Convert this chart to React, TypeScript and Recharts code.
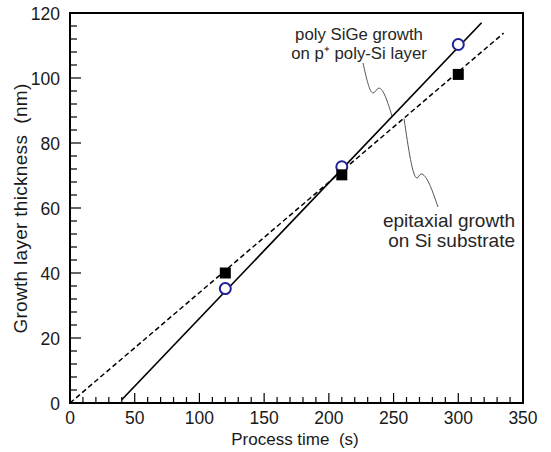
import React from "react";
import {
  ComposedChart,
  XAxis,
  YAxis,
  Line,
  Scatter,
  ReferenceArea,
  Customized,
} from "recharts";

// ---- data ----
const polySiGePoints = [
  { x: 120, y: 35.2 },
  { x: 210, y: 72.7 },
  { x: 300, y: 110.3 },
];
const epiPoints = [
  { x: 120, y: 40.0 },
  { x: 210, y: 70.2 },
  { x: 300, y: 101.1 },
];
const polySiGeFit = [
  { x: 40, y: 1 },
  { x: 318, y: 117 },
];
const epiFit = [
  { x: 0, y: 0 },
  { x: 335, y: 113.8 },
];
const leader1 = [
  { x: 226.4, y: 104.6 },
  { x: 234.1, y: 95.4 },
  { x: 238.7, y: 96.9 },
  { x: 248.8, y: 88.3 },
];
const leader2 = [
  { x: 258.1, y: 87.5 },
  { x: 268.1, y: 69.2 },
  { x: 271.2, y: 70.5 },
  { x: 284.3, y: 60.3 },
];
const xTicks = [
  0, 10, 20, 30, 40, 50, 60, 70, 80, 90, 100, 110, 120, 130, 140, 150, 160,
  170, 180, 190, 200, 210, 220, 230, 240, 250, 260, 270, 280, 290, 300, 310,
  320, 330, 340, 350,
];
const yTicks = [
  0, 4, 8, 12, 16, 20, 24, 28, 32, 36, 40, 44, 48, 52, 56, 60, 64, 68, 72, 76,
  80, 84, 88, 92, 96, 100, 104, 108, 112, 116, 120,
];
const xTitle = "Process time  (s)";
const yTitle = "Growth layer thickness  (nm)";
const polyLabel = ["poly SiGe growth", "on p\u207A poly-Si layer"];
const epiLabel = ["epitaxial growth", "on Si substrate"];

const FONT = "'Liberation Sans', Arial, sans-serif";
const TEXT = "#1a1a1a";

const XTick = (props: any) => {
  const { x, y, payload } = props;
  const v = payload.value;
  const major = v % 50 === 0;
  return (
    <g>
      <line x1={x} y1={y} x2={x} y2={y - (major ? 10 : 6)} stroke="#000" strokeWidth={1.2} />
      {major && (
        <text x={x} y={y + 15} dy="0.35em" textAnchor="middle" fontSize={17.5} fontFamily={FONT} fill={TEXT}>
          {v}
        </text>
      )}
    </g>
  );
};

const YTick = (props: any) => {
  const { x, y, payload } = props;
  const v = payload.value;
  const major = v % 20 === 0;
  return (
    <g>
      <line x1={x} y1={y} x2={x + (major ? 11 : 7)} y2={y} stroke="#000" strokeWidth={1.2} />
      {major && (
        <text x={x - 10} y={y} dy="0.38em" textAnchor="end" fontSize={17.5} fontFamily={FONT} fill={TEXT}>
          {v}
        </text>
      )}
    </g>
  );
};

const Circle = (props: any) => (
  <circle cx={props.cx} cy={props.cy} r={5.5} fill="#fff" stroke="#1f1f96" strokeWidth={2} />
);
const Square = (props: any) => (
  <rect x={props.cx - 5.5} y={props.cy - 5.5} width={11} height={11} fill="#000" />
);

const Annotations = () => (
  <g fontFamily={FONT} fill="#262626">
    <text x={359} y={40} textAnchor="middle" fontSize={16.8}>{polyLabel[0]}</text>
    <text x={359} y={59} textAnchor="middle" fontSize={16.8}>{polyLabel[1]}</text>
    <text x={515} y={227} textAnchor="end" fontSize={19}>{epiLabel[0]}</text>
    <text x={515} y={246.5} textAnchor="end" fontSize={19}>{epiLabel[1]}</text>
    <text
      x={295}
      y={439}
      dy="0.35em"
      textAnchor="middle"
      fontSize={17}
      fill={TEXT}
      style={{ whiteSpace: "pre" }}
    >
      {xTitle}
    </text>
    <text
      x={20}
      y={208.5}
      dy="0.35em"
      textAnchor="middle"
      fontSize={19}
      letterSpacing={0.3}
      fill={TEXT}
      style={{ whiteSpace: "pre" }}
      transform="rotate(-90 20 208.5)"
    >
      {yTitle}
    </text>
  </g>
);

export default function App() {
  return (
    <div style={{ position: "absolute", left: 0, top: 0, width: 551, height: 452, background: "#fff" }}>
      <ComposedChart width={551} height={452} margin={{ top: 13, right: 28, bottom: 0, left: 0 }}>
        <XAxis
          type="number"
          dataKey="x"
          domain={[0, 350]}
          ticks={xTicks}
          interval={0}
          allowDataOverflow
          height={49}
          tickSize={0}
          tickMargin={0}
          tickLine={false}
          axisLine={{ stroke: "#000", strokeWidth: 2 }}
          tick={<XTick />}
        />
        <YAxis
          type="number"
          dataKey="y"
          domain={[0, 120]}
          ticks={yTicks}
          interval={0}
          allowDataOverflow
          width={70}
          tickSize={0}
          tickMargin={0}
          tickLine={false}
          axisLine={{ stroke: "#000", strokeWidth: 2 }}
          tick={<YTick />}
        />
        <ReferenceArea x1={0} x2={350} y1={0} y2={120} fill="none" fillOpacity={0} stroke="#000" strokeWidth={2} />
        <Line data={leader1} dataKey="y" type="monotoneX" stroke="#555" strokeWidth={1} dot={false} isAnimationActive={false} />
        <Line data={leader2} dataKey="y" type="monotoneX" stroke="#555" strokeWidth={1} dot={false} isAnimationActive={false} />
        <Line data={epiFit} dataKey="y" type="linear" stroke="#000" strokeWidth={1.5} strokeDasharray="5 3" dot={false} isAnimationActive={false} />
        <Line data={polySiGeFit} dataKey="y" type="linear" stroke="#000" strokeWidth={1.7} dot={false} isAnimationActive={false} />
        <Scatter data={polySiGePoints} dataKey="y" shape={<Circle />} isAnimationActive={false} />
        <Scatter data={epiPoints} dataKey="y" shape={<Square />} isAnimationActive={false} />
        <Customized component={<Annotations />} />
      </ComposedChart>
    </div>
  );
}
